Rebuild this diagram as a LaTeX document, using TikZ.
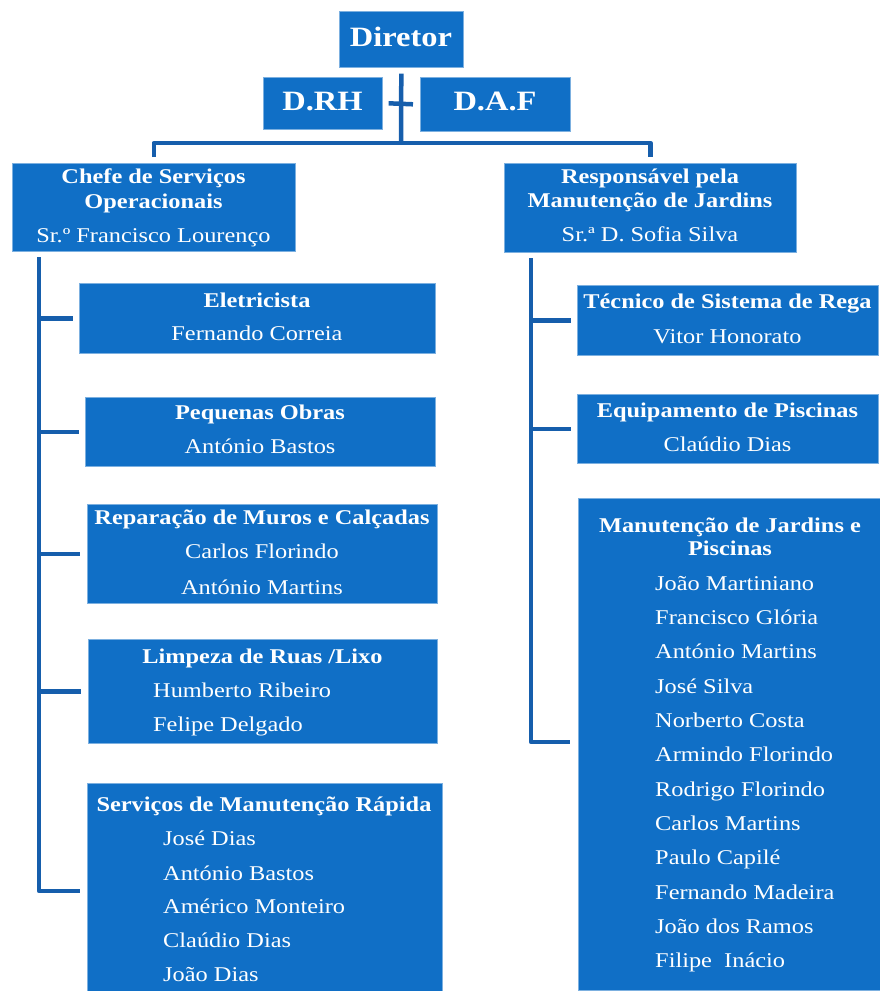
\documentclass[tikz,border=0pt]{standalone}
\usepackage{fontspec}
\setmainfont[FakeStretch=1.16]{Liberation Serif}
\definecolor{boxblue}{RGB}{16,111,198}
\definecolor{lineblue}{RGB}{22,94,172}
\tikzset{
  obox/.style={fill=boxblue, draw=boxblue!55!white, line width=0.6pt, anchor=north west, inner sep=0pt},
  conn/.style={draw=lineblue, line width=4.5pt, line join=round},
  txt/.style={text=white, inner sep=0pt, anchor=base, font=\fontsize{21}{25}\selectfont},
  tb/.style={txt, font=\fontsize{21}{25}\selectfont\bfseries},
  tbig/.style={txt, font=\fontsize{28}{32}\selectfont\bfseries},
  tl/.style={txt, anchor=base west}
}
\newcommand\obox[5]{\node[obox, minimum width=#4pt, minimum height=#5pt] (#1) at (#2,#3) {};}
\begin{document}
\begin{tikzpicture}[x=1pt,y=-1pt]
\useasboundingbox (0,0) rectangle (880,991);
% boxes
\obox{dir}{339}{11}{124}{56}
\obox{drh}{263}{77}{119}{52}
\obox{daf}{420}{77}{150}{54}
\obox{chefe}{12}{163}{283}{88}
\obox{resp}{504}{163}{292}{89}
\obox{elet}{79}{283}{356}{70}
\obox{peq}{85}{397}{350}{69}
\obox{rep}{87}{504}{350}{99}
\obox{limp}{88}{639}{349}{104}
\obox{serv}{87}{783}{355}{210}
\obox{tec}{577}{285}{301}{70}
\obox{equip}{577}{394}{301}{69}
\obox{manut}{578}{498}{302}{492}
% connectors
\coordinate (bus) at (401,143);
\draw[conn] ([yshift=-6pt]dir.south) -- (bus);
\draw[conn] ([xshift=6pt]drh.east) -- ([xshift=-7pt]daf.west);
\draw[conn] ([yshift=6pt]chefe.north) |- (bus) -| ([yshift=6pt]resp.north);
% left trunk
\coordinate (lt) at (39,257);
\coordinate (lb) at (39,891);
\draw[conn] (lt) -- (lb) -- ([xshift=-7pt]lb -| serv.west);
\draw[conn] (lt |- elet.west) -- ([xshift=-6pt]elet.west);
\draw[conn] (lt |- peq.west) -- ([xshift=-6pt]peq.west);
\draw[conn] (lt |- rep.west) -- ([xshift=-7pt]rep.west);
\draw[conn] (lt |- limp.west) -- ([xshift=-7pt]limp.west);
% right trunk
\coordinate (rt) at (531,258);
\coordinate (rb) at (531,742);
\draw[conn] (rt) -- (rb) -- ([xshift=-8pt]rb -| manut.west);
\draw[conn] (rt |- tec.west) -- ([xshift=-6pt]tec.west);
\draw[conn] (rt |- equip.west) -- ([xshift=-6pt]equip.west);
% texts
\node[tbig] (t-dir) at (401,46) {Diretor};
\node[tbig] (t-drh) at (322.5,110) {D.RH};
\node[tbig] (t-daf) at (495,110) {D.A.F};
\node[tb] (t-ch1) at (153.5,183) {Chefe de Serviços};
\node[tb] (t-ch2) at (153.5,208) {Operacionais};
\node[txt] (t-ch3) at (153.5,242) {Sr.º Francisco Lourenço};
\node[tb] (t-re1) at (650,183) {Responsável pela};
\node[tb] (t-re2) at (650,207) {Manutenção de Jardins};
\node[txt] (t-re3) at (650,241) {Sr.ª D. Sofia Silva};
\node[tb] (t-el1) at (257,307) {Eletricista};
\node[txt] (t-el2) at (257,340) {Fernando Correia};
\node[tb] (t-pe1) at (260,419) {Pequenas Obras};
\node[txt] (t-pe2) at (260,453) {António Bastos};
\node[tb] (t-rp1) at (262,524) {Reparação de Muros e Calçadas};
\node[txt] (t-rp2) at (262,558) {Carlos Florindo};
\node[txt] (t-rp3) at (262,594) {António Martins};
\node[tb] (t-li1) at (262.5,663) {Limpeza de Ruas /Lixo};
\node[tl] (t-li2) at (153,697) {Humberto Ribeiro};
\node[tl] (t-li3) at (153,731) {Felipe Delgado};
\node[tb] (t-sv1) at (264,811) {Serviços de Manutenção Rápida};
\node[tl] (t-sv2) at (163,845) {José Dias};
\node[tl] (t-sv3) at (163,880) {António Bastos};
\node[tl] (t-sv4) at (163,913) {Américo Monteiro};
\node[tl] (t-sv5) at (163,947) {Claúdio Dias};
\node[tl] (t-sv6) at (163,981) {João Dias};
\node[tb] (t-te1) at (727.5,308) {Técnico de Sistema de Rega};
\node[txt] (t-te2) at (727.5,343) {Vitor Honorato};
\node[tb] (t-eq1) at (727.5,417) {Equipamento de Piscinas};
\node[txt] (t-eq2) at (727.5,451) {Claúdio Dias};
\node[tb] (t-ma1) at (730,532) {Manutenção de Jardins e};
\node[tb] (t-ma2) at (730,555) {Piscinas};
\node[tl] (t-m1) at (655,590) {João Martiniano};
\node[tl] (t-m2) at (655,624.4) {Francisco Glória};
\node[tl] (t-m3) at (655,658.7) {António Martins};
\node[tl] (t-m4) at (655,693) {José Silva};
\node[tl] (t-m5) at (655,727.4) {Norberto Costa};
\node[tl] (t-m6) at (655,761.8) {Armindo Florindo};
\node[tl] (t-m7) at (655,796.1) {Rodrigo Florindo};
\node[tl] (t-m8) at (655,830.5) {Carlos Martins};
\node[tl] (t-m9) at (655,864.8) {Paulo Capilé};
\node[tl] (t-m10) at (655,899.2) {Fernando Madeira};
\node[tl] (t-m11) at (655,933.5) {João dos Ramos};
\node[tl] (t-m12) at (655,967.9) {Filipe~~Inácio};
\end{tikzpicture}
\end{document}
